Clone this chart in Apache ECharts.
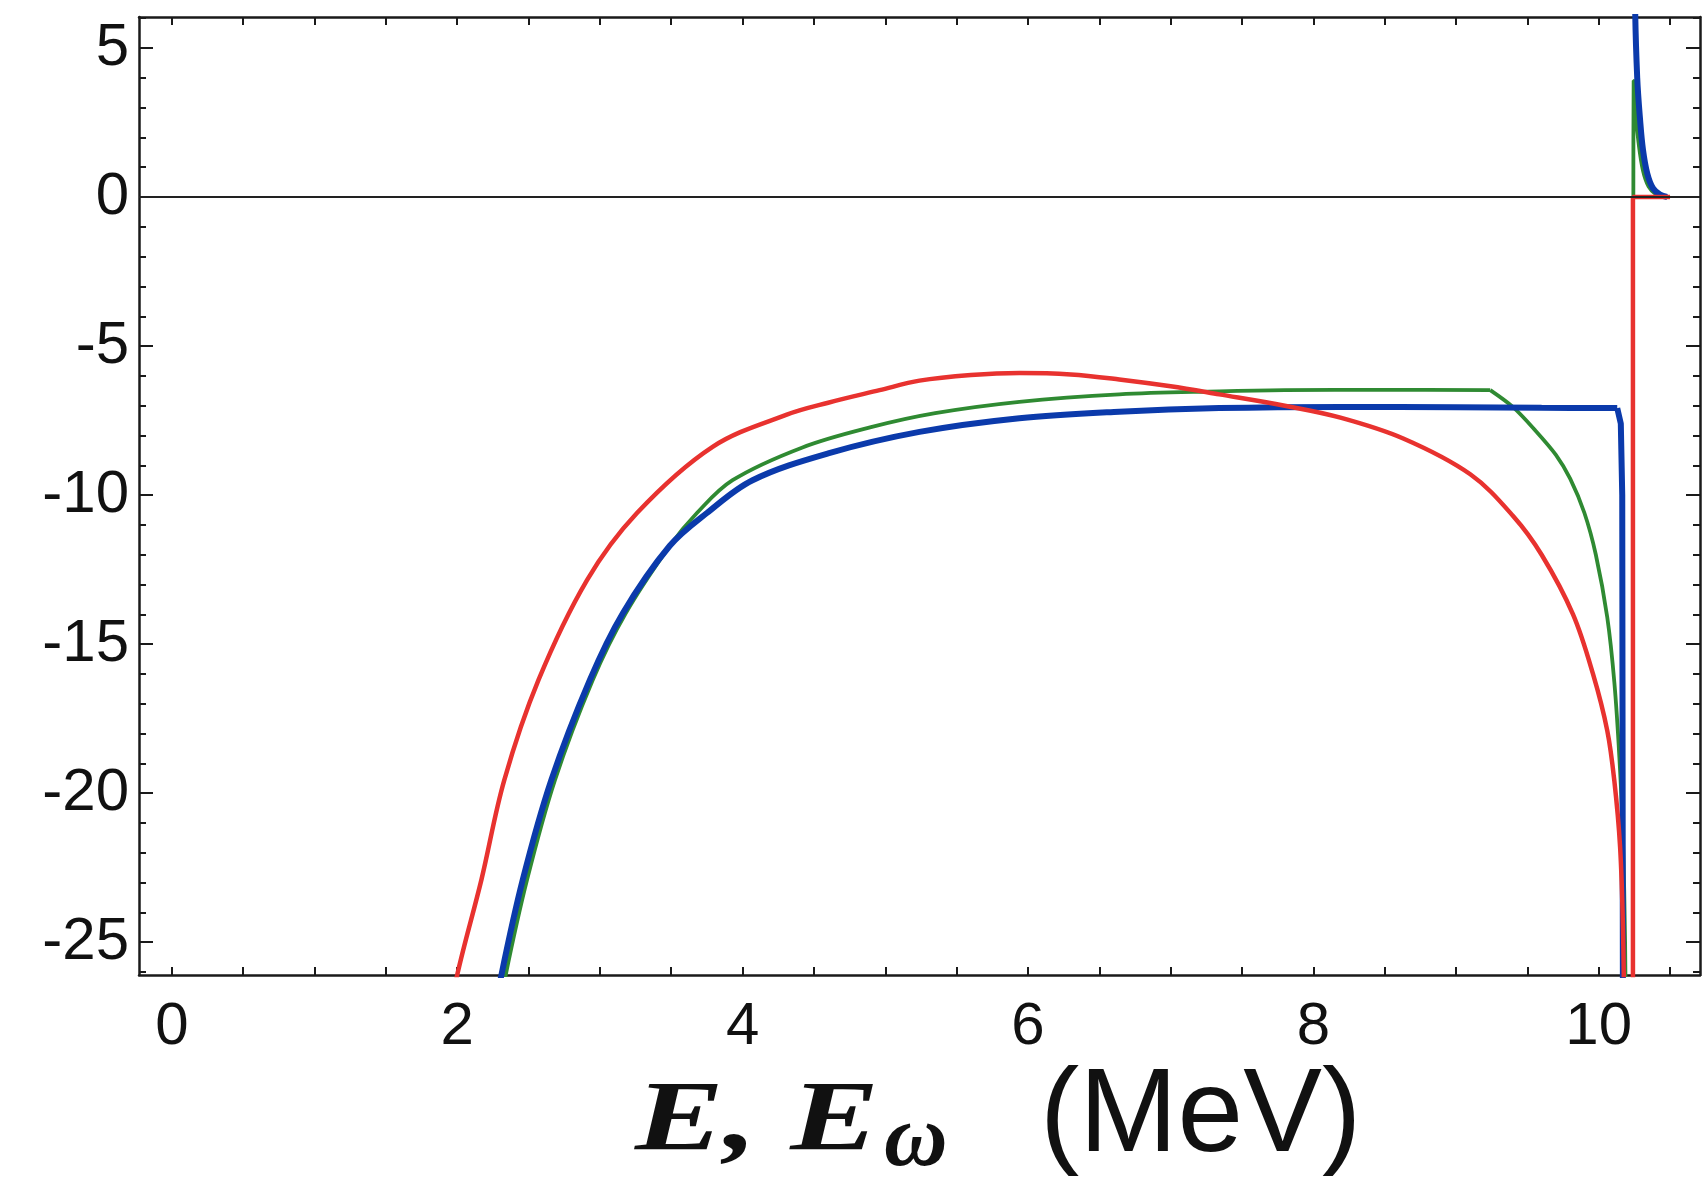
<!DOCTYPE html>
<html>
<head>
<meta charset="utf-8">
<title>E, E_w spectrum</title>
<script src="https://cdn.jsdelivr.net/npm/echarts@6.0.0/dist/echarts.min.js"></script>
<style>
    body { margin: 0; background: #ffffff; }
    #MyChart { width: 1703px; height: 1185px; }
</style>
</head>
<body>
<div id="MyChart"></div>
<script>
// 坐标范围
var X_MIN = -0.23, X_MAX = 10.71
var Y_MIN = -26.1, Y_MAX = 6.04

// 刻度
var xLabels = [0, 2, 4, 6, 8, 10]
var xTicks = [0, 0.5, 1, 1.5, 2, 2.5, 3, 3.5, 4, 4.5, 5, 5.5, 6, 6.5, 7, 7.5, 8, 8.5, 9, 9.5, 10, 10.5]
var yLabels = [-25, -20, -15, -10, -5, 0, 5]
var yMinorTicks = [-26, -25, -24, -23, -22, -21, -20, -19, -18, -17, -16, -15, -14, -13, -12, -11, -10,
    -9, -8, -7, -6, -5, -4, -3, -2, -1, 0, 1, 2, 3, 4, 5, 6]
var yMajorTicks = [-25, -20, -15, -10, -5, 0, 5]

// 曲线数据 [E, value]
var greenMain = [[2.27, -28], [2.34, -26.1], [2.49, -22.9], [2.685, -19.56], [2.95, -16.2], [3.18, -13.97],
    [3.49, -11.7], [3.68, -10.6], [3.93, -9.5], [4.42, -8.4], [4.9, -7.72], [5.35, -7.25], [5.94, -6.87],
    [6.64, -6.62], [7.34, -6.52], [7.8, -6.48], [8.5, -6.47], [9.24, -6.48]]
var greenDrop = [[9.24, -6.48], [9.4, -7.05], [9.55, -7.8], [9.7, -8.65], [9.8, -9.45], [9.9, -10.6],
    [9.98, -12.0], [10.06, -14.1], [10.11, -16.3], [10.145, -18.8], [10.17, -21.5], [10.185, -25],
    [10.19, -28]]
var greenSpike = [[10.243, 0], [10.245, 3.9], [10.26, 2.8], [10.28, 1.8], [10.31, 0.9], [10.35, 0.35],
    [10.4, 0.1], [10.46, 0]]

var blueMain = [[2.24, -28], [2.31, -26.1], [2.46, -22.9], [2.66, -19.56], [2.93, -16.2], [3.16, -13.97],
    [3.49, -11.7], [3.75, -10.6], [4.07, -9.5], [4.6, -8.6], [5.24, -7.88], [5.94, -7.42], [6.64, -7.2],
    [7.34, -7.08], [8.2, -7.04], [9.0, -7.05], [9.6, -7.07], [10.13, -7.08]]
var blueDrop = [[10.13, -7.08], [10.155, -7.6], [10.165, -10], [10.17, -28]]
var blueSpike = [[10.252, 10], [10.255, 6.5], [10.27, 4.0], [10.29, 2.6], [10.31, 1.6], [10.34, 0.8],
    [10.38, 0.3], [10.43, 0.08], [10.48, 0]]

var redMain = [[1.93, -28], [2.0, -26.1], [2.17, -22.9], [2.33, -19.56], [2.57, -16.2], [2.91, -12.85],
    [3.26, -10.6], [3.79, -8.38], [4.31, -7.3], [4.6, -6.9], [4.96, -6.48], [5.24, -6.16], [5.6, -5.97],
    [5.94, -5.9], [6.3, -5.95], [6.64, -6.12], [7.0, -6.35], [7.34, -6.62], [7.8, -7.0], [8.19, -7.4],
    [8.63, -8.1], [9.1, -9.3], [9.4, -10.7], [9.6, -12.0], [9.82, -14.0], [9.96, -16.0], [10.06, -17.9],
    [10.11, -19.6], [10.15, -21.8], [10.17, -24.5], [10.18, -28]]
var redStep = [[10.24, -28], [10.24, 0], [10.5, 0]]

var GREEN = '#2f8a32', BLUE = '#0b3aab', RED = '#e8322f'

var chartDom = document.getElementById('MyChart');
var myChart = echarts.init(chartDom);
var option;

// 坐标轴通用样式
var axisLineStyle = {color: '#1a1a1a', width: 2.5}
var tickLineStyle = {color: '#1a1a1a', width: 2}
var labelStyle = {
    fontSize: 60,
    fontFamily: 'Liberation Sans',
    color: '#111111'
}

function curve(data, color, width, smooth) {
    return {
        type: 'line',
        data: data,
        showSymbol: false,
        symbol: 'none',
        smooth: smooth,
        clip: true,
        lineStyle: {color: color, width: width},
        itemStyle: {color: color},
        silent: true
    }
}

option = {
    animation: false,
    backgroundColor: '#ffffff',
    grid: {
        left: 139,
        right: 3,
        top: 17,
        bottom: 210,
        show: false
    },
    xAxis: [
        {
            type: 'value',
            position: 'bottom',
            min: X_MIN,
            max: X_MAX,
            axisLine: {show: true, onZero: false, lineStyle: axisLineStyle},
            axisTick: {show: true, inside: true, length: 8, customValues: xTicks, lineStyle: tickLineStyle},
            axisLabel: Object.assign({show: true, margin: 22, customValues: xLabels}, labelStyle),
            splitLine: {show: false}
        },
        {
            type: 'value',
            position: 'top',
            min: X_MIN,
            max: X_MAX,
            axisLine: {show: true, onZero: false, lineStyle: axisLineStyle},
            axisTick: {show: true, inside: true, length: 8, customValues: xTicks, lineStyle: tickLineStyle},
            axisLabel: {show: false},
            splitLine: {show: false}
        }
    ],
    yAxis: [
        {
            type: 'value',
            position: 'left',
            min: Y_MIN,
            max: Y_MAX,
            axisLine: {show: true, onZero: false, lineStyle: axisLineStyle},
            axisTick: {show: true, inside: true, length: 7, customValues: yMinorTicks, lineStyle: tickLineStyle},
            axisLabel: Object.assign({show: true, margin: 10, customValues: yLabels}, labelStyle),
            splitLine: {show: false}
        },
        {
            type: 'value',
            position: 'left',
            min: Y_MIN,
            max: Y_MAX,
            axisLine: {show: false, onZero: false},
            axisTick: {show: true, inside: true, length: 14, customValues: yMajorTicks, lineStyle: tickLineStyle},
            axisLabel: {show: false},
            splitLine: {show: false}
        },
        {
            type: 'value',
            position: 'right',
            min: Y_MIN,
            max: Y_MAX,
            axisLine: {show: true, onZero: false, lineStyle: axisLineStyle},
            axisTick: {show: true, inside: true, length: 7, customValues: yMinorTicks, lineStyle: tickLineStyle},
            axisLabel: {show: false},
            splitLine: {show: false}
        },
        {
            type: 'value',
            position: 'right',
            min: Y_MIN,
            max: Y_MAX,
            axisLine: {show: false, onZero: false},
            axisTick: {show: true, inside: true, length: 14, customValues: yMajorTicks, lineStyle: tickLineStyle},
            axisLabel: {show: false},
            splitLine: {show: false}
        }
    ],
    series: [
        Object.assign(curve(greenMain, GREEN, 3.8, 0.35), {
            // y = 0 参考线
            markLine: {
                silent: true,
                symbol: ['none', 'none'],
                label: {show: false},
                lineStyle: {color: '#222222', width: 2.2, type: 'solid'},
                data: [{yAxis: 0}]
            }
        }),
        curve(greenDrop, GREEN, 3.8, 0.3),
        curve(greenSpike, GREEN, 3.8, 0.35),
        curve(blueMain, BLUE, 6, 0.35),
        curve(blueDrop, BLUE, 6, false),
        curve(blueSpike, BLUE, 6, 0.35),
        curve(redMain, RED, 4.5, 0.35),
        curve(redStep, RED, 4.5, false)
    ],
    // 横轴标题
    graphic: [
        {
            type: 'text',
            x: 635,
            y: 1123,
            scaleX: 1.33,
            style: {
                text: 'E, E',
                font: 'italic bold 100px "Liberation Serif"',
                fill: '#111111',
                textAlign: 'left',
                textVerticalAlign: 'middle',
                align: 'left',
                verticalAlign: 'middle'
            }
        },
        {
            type: 'text',
            x: 884,
            y: 1142,
            style: {
                text: 'ω',
                font: 'italic bold 88px "Liberation Serif"',
                fill: '#111111',
                textAlign: 'left',
                textVerticalAlign: 'middle',
                align: 'left',
                verticalAlign: 'middle'
            }
        },
        {
            type: 'text',
            x: 1040,
            y: 1118,
            style: {
                text: '(MeV)',
                font: '118px "Liberation Sans"',
                fill: '#111111',
                textAlign: 'left',
                textVerticalAlign: 'middle',
                align: 'left',
                verticalAlign: 'middle'
            }
        }
    ]
};

option && myChart.setOption(option);
</script>
</body>
</html>
